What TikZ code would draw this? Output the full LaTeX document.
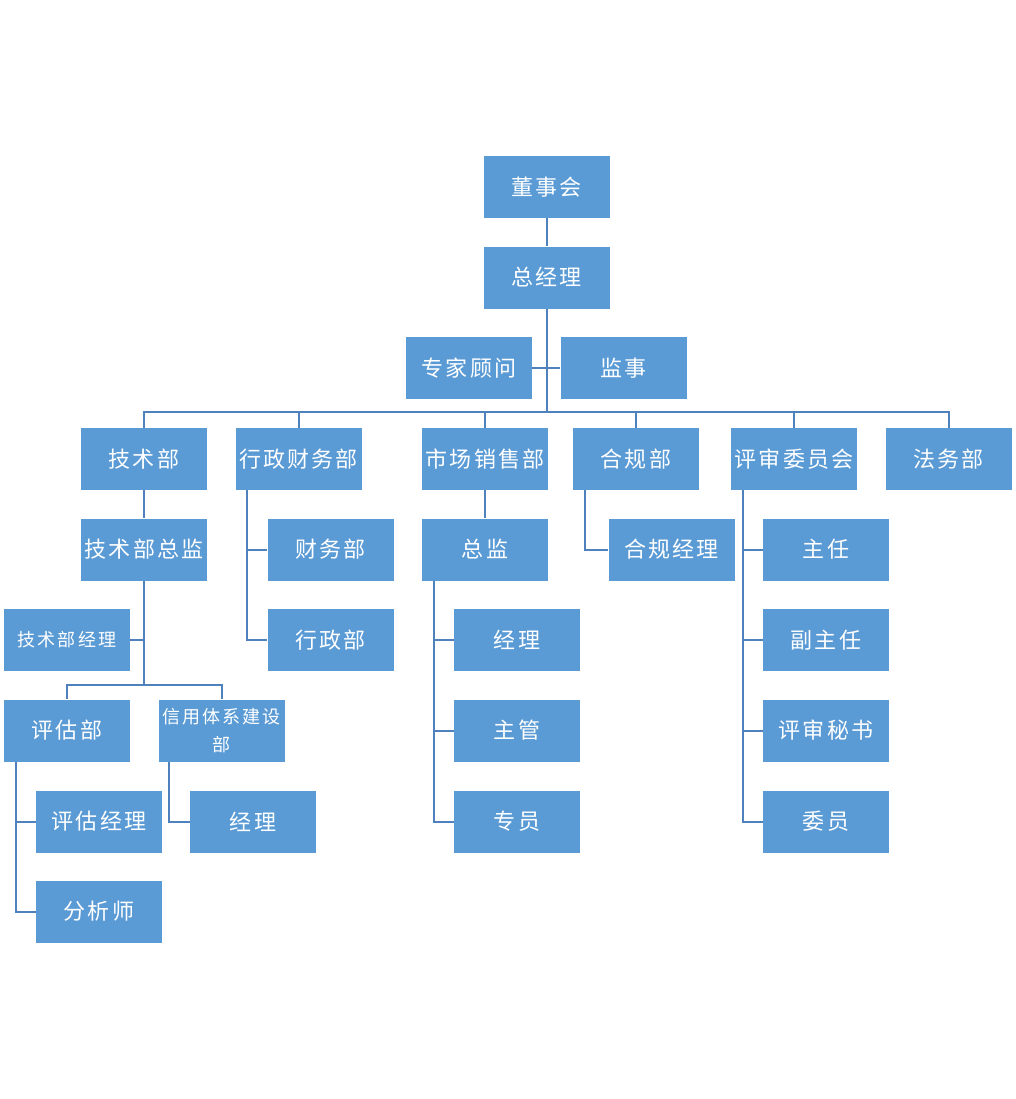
\documentclass[tikz,border=0pt]{standalone}
\usepackage{fontspec}
\newfontfamily\cnfont[LetterSpace=10]{Noto Sans CJK SC}
\newfontfamily\cnsmall[LetterSpace=12]{Noto Sans CJK SC}
\definecolor{boxblue}{HTML}{5B9BD5}
\definecolor{lineblue}{HTML}{4F81BD}
\begin{document}
\begin{tikzpicture}[x=1pt,y=-1pt,
  box/.style={fill=boxblue, minimum width=126pt, minimum height=62pt, inner sep=0pt, text=white,
    font=\cnfont\fontsize{22}{26}\selectfont, align=center},
  smallbox/.style={box, font=\cnsmall\fontsize{18}{28}\selectfont},
  conn/.style={draw=lineblue, line width=2pt}]
\useasboundingbox (0,0) rectangle (1015,1099);
% top
\node[box] (dsh) at (546.5,187) {董事会};
\node[box] (zjl) at (546.5,277.5) {总经理};
\node[box] (zjgw) at (469,368) {专家顾问};
\node[box] (jshi) at (623.5,368) {监事};
% departments
\node[box] (jsb) at (144,459) {技术部};
\node[box] (xzcw) at (298.5,459) {行政财务部};
\node[box] (scxs) at (485,459) {市场销售部};
\node[box] (hgb) at (636,459) {合规部};
\node[box] (pswy) at (794,459) {评审委员会};
\node[box] (fwb) at (948.5,459) {法务部};
% tech
\node[box] (jszj) at (144,549.5) {技术部总监};
\node[smallbox] (jsjl) at (67,640) {技术部经理};
\node[box] (pgb) at (67,730.5) {评估部};
\node[smallbox] (xy) at (221.5,730.5) {信用体系建设\\部};
\node[box] (pgjl) at (99,821.5) {评估经理};
\node[box] (fxs) at (99,911.5) {分析师};
\node[box] (xyjl) at (253,821.5) {经理};
% admin finance
\node[box] (cwb) at (330.5,549.5) {财务部};
\node[box] (xzb) at (330.5,640) {行政部};
% marketing
\node[box] (zj) at (485,549.5) {总监};
\node[box] (scjl) at (517,640) {经理};
\node[box] (zg) at (517,730.5) {主管};
\node[box] (zy) at (517,821.5) {专员};
% compliance
\node[box] (hgjl) at (671.5,549.5) {合规经理};
% review
\node[box] (zr) at (826,549.5) {主任};
\node[box] (fzr) at (826,640) {副主任};
\node[box] (psms) at (826,730.5) {评审秘书};
\node[box] (wy) at (826,821.5) {委员};
% connectors
\coordinate (bar) at (546.5,412);
\coordinate (jsbar) at (144,685);
\draw[conn] (dsh.south) -- (zjl.north);
\draw[conn] (zjl.south) -- (bar);
\draw[conn] (zjgw.east) -- (jshi.west);
\draw[conn] (jsb.north) -- (jsb.north |- bar) -- (fwb.north |- bar) -- (fwb.north);
\draw[conn] (xzcw.north) -- (xzcw.north |- bar);
\draw[conn] (scxs.north) -- (scxs.north |- bar);
\draw[conn] (hgb.north) -- (hgb.north |- bar);
\draw[conn] (pswy.north) -- (pswy.north |- bar);
% tech
\draw[conn] (jsb.south) -- (jszj.north);
\draw[conn] (jszj.south) -- (jsbar);
\draw[conn] (jsjl.east) -- (jsjl.east -| jsbar);
\draw[conn] (pgb.north) |- (jsbar) -| (xy.north);
\draw[conn] ([xshift=12pt]pgb.south west) |- (pgjl.west);
\draw[conn] ([xshift=12pt]pgb.south west) |- (fxs.west);
\draw[conn] ([xshift=11pt]xy.south west) |- (xyjl.west);
% admin
\draw[conn] ([xshift=12pt]xzcw.south west) |- (cwb.west);
\draw[conn] ([xshift=12pt]xzcw.south west) |- (xzb.west);
% marketing
\draw[conn] (scxs.south) -- (zj.north);
\draw[conn] ([xshift=12pt]zj.south west) |- (scjl.west);
\draw[conn] ([xshift=12pt]zj.south west) |- (zg.west);
\draw[conn] ([xshift=12pt]zj.south west) |- (zy.west);
% compliance
\draw[conn] ([xshift=12pt]hgb.south west) |- (hgjl.west);
% review
\draw[conn] ([xshift=12pt]pswy.south west) |- (zr.west);
\draw[conn] ([xshift=12pt]pswy.south west) |- (fzr.west);
\draw[conn] ([xshift=12pt]pswy.south west) |- (psms.west);
\draw[conn] ([xshift=12pt]pswy.south west) |- (wy.west);
\end{tikzpicture}
\end{document}
